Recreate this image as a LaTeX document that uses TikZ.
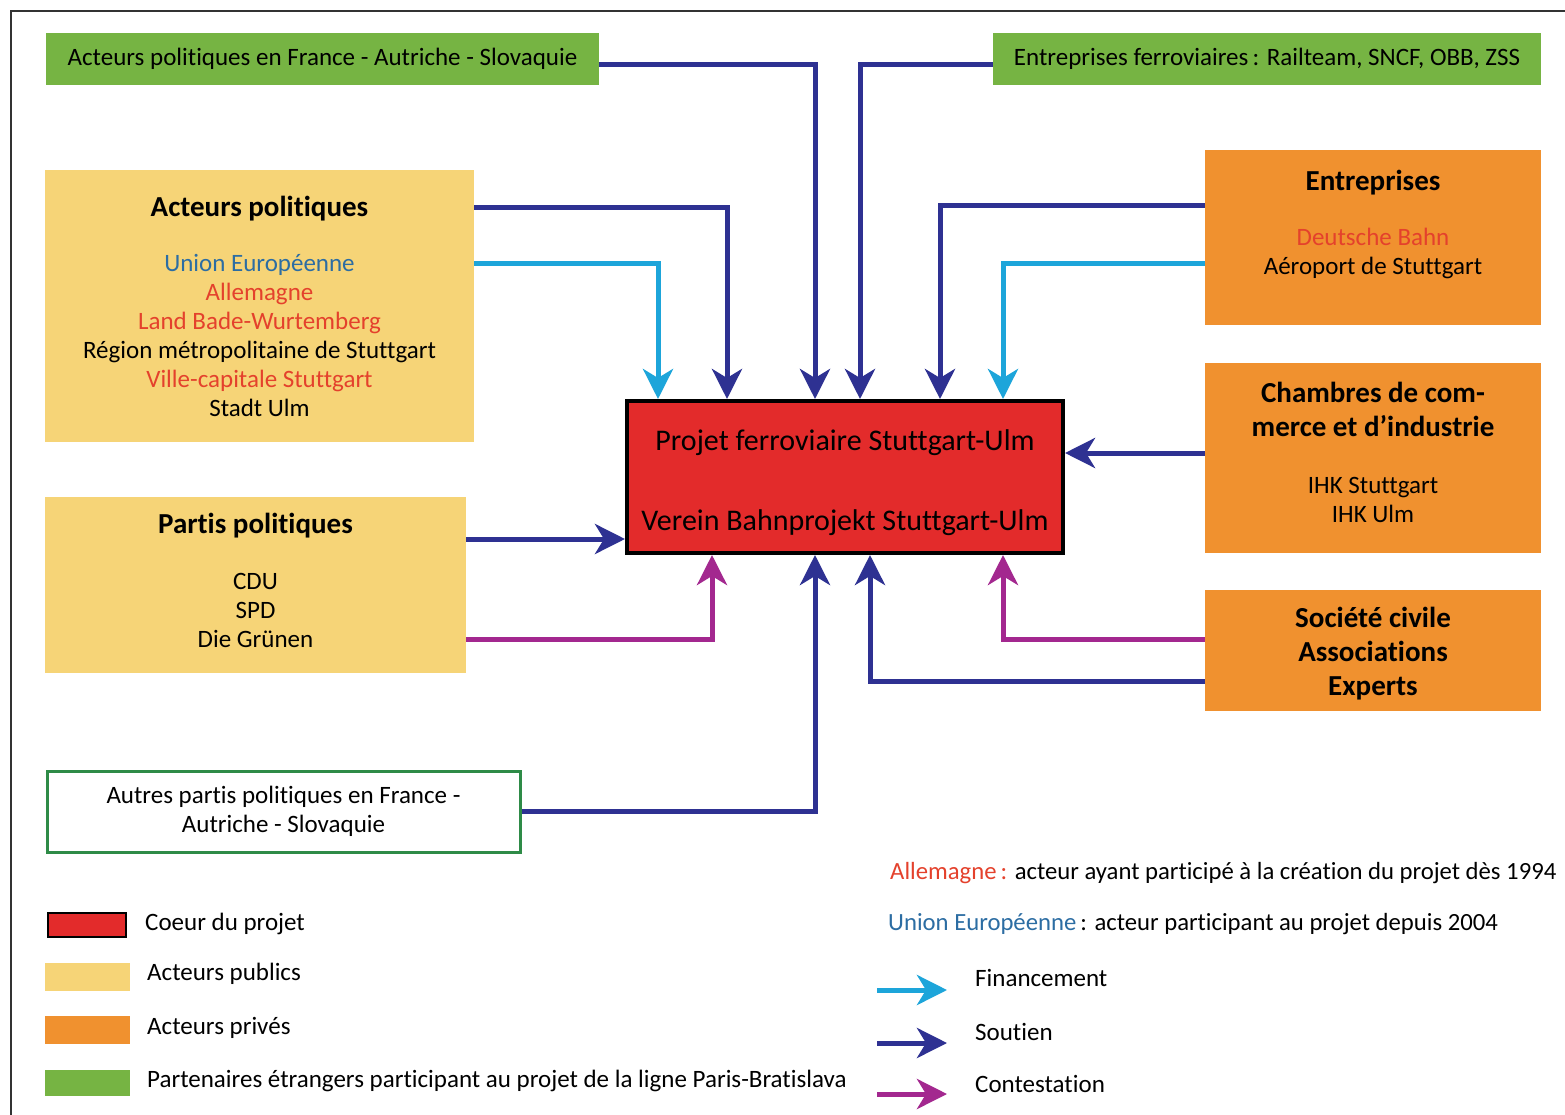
\documentclass[tikz,border=0pt]{standalone}
\usepackage{fontspec}
\setmainfont{Carlito}[Ligatures=NoCommon]
\usetikzlibrary{arrows.meta}

\definecolor{vert}{HTML}{76B443}
\definecolor{jaune}{HTML}{F6D477}
\definecolor{orange}{HTML}{F0912F}
\definecolor{rouge}{HTML}{E32B2B}
\definecolor{marine}{HTML}{2E3192}
\definecolor{ciel}{HTML}{1DA5DA}
\definecolor{violet}{HTML}{A3288F}
\definecolor{txtrouge}{HTML}{E4412C}
\definecolor{txtbleu}{HTML}{2C6DA3}
\definecolor{bordvert}{HTML}{2E8B47}

\begin{document}
\begin{tikzpicture}[x=1pt, y=-1pt,
  box/.style={inner sep=0pt, align=center, font=\fontsize{25}{29}\selectfont},
  label/.style={anchor=west, inner sep=0pt, font=\fontsize{25}{29}\selectfont},
  fleche/.style={line width=5pt, -{Stealth[length=30pt, width=30pt, inset=9pt]}},
  soutien/.style={fleche, draw=marine},
  finance/.style={fleche, draw=ciel},
  contest/.style={fleche, draw=violet}]
  \useasboundingbox[fill=white] (0,0) rectangle (1565,1115);
  \draw[line width=1.2pt, black!80] (11,1130) -- (11,11) -- (1580,11);

  % partenaires etrangers
  \node[box, fill=vert, minimum width=553, minimum height=52] (frpol) at (322.5,59)
    {Acteurs politiques en France - Autriche - Slovaquie};
  \node[box, fill=vert, minimum width=548, minimum height=52] (ferro) at (1267,59)
    {Entreprises ferroviaires\,: Railteam, SNCF, OBB, ZSS};

  % acteurs publics
  \node[box, fill=jaune, minimum width=429, minimum height=272] (acteurs) at (259.5,306)
    {{\fontsize{29}{34}\selectfont\bfseries Acteurs politiques}\\[26pt]
     \textcolor{txtbleu}{Union Européenne}\\
     \textcolor{txtrouge}{Allemagne}\\
     \textcolor{txtrouge}{Land Bade-Wurtemberg}\\
     Région métropolitaine de Stuttgart\\
     \textcolor{txtrouge}{Ville-capitale Stuttgart}\\
     Stadt Ulm};
  \node[box, fill=jaune, minimum width=421, minimum height=176] (partis) at (255.5,585)
    {{\fontsize{29}{34}\selectfont\bfseries Partis politiques}\\[27pt]
     CDU\\ SPD\\ Die Grünen\rule[-9pt]{0pt}{0pt}};
  \node[box, draw=bordvert, line width=3pt, minimum width=473, minimum height=81] (autres) at (283.5,811.5)
    {Autres partis politiques en France -\\ Autriche - Slovaquie};

  % coeur du projet
  \node[box, fill=rouge, draw=black, line width=4pt, minimum width=436, minimum height=152,
    font=\fontsize{30}{34}\selectfont] (projet) at (845,477)
    {\rule{0pt}{33pt}Projet ferroviaire Stuttgart-Ulm\\[46pt] Verein Bahnprojekt Stuttgart-Ulm};

  % acteurs prives
  \node[box, fill=orange, minimum width=336, minimum height=175] (entr) at (1373,237.5)
    {{\fontsize{29}{34}\selectfont\bfseries Entreprises}\\[26pt]
     \textcolor{txtrouge}{Deutsche Bahn}\\ Aéroport de Stuttgart\rule[-30pt]{0pt}{0pt}};
  \node[box, fill=orange, minimum width=336, minimum height=190] (cci) at (1373,458)
    {{\fontsize{29}{34}\selectfont\bfseries Chambres de com-}\\[5pt]
     {\fontsize{29}{34}\selectfont\bfseries merce et d’industrie}\\[28pt]
     IHK Stuttgart\\ IHK Ulm\rule[-12pt]{0pt}{0pt}};
  \node[box, fill=orange, minimum width=336, minimum height=121,
    font=\fontsize{29}{34}\selectfont\bfseries] (civile) at (1373,650.5)
    {\rule{0pt}{27pt}Société civile\\ Associations\\ Experts};

  % liens
  \draw[soutien] (frpol.east |- 0,65) -| (projet.north -| 815,0);
  \draw[soutien] (ferro.west |- 0,65) -| (projet.north -| 860,0);
  \draw[soutien] (acteurs.east |- 0,208) -| (projet.north -| 727,0);
  \draw[finance] (acteurs.east |- 0,264) -| (projet.north -| 658,0);
  \draw[soutien] (entr.west |- 0,206) -| (projet.north -| 940,0);
  \draw[finance] (entr.west |- 0,264) -| (projet.north -| 1003,0);
  \draw[soutien] (cci.west |- 0,453) -- (projet.east |- 0,453);
  \draw[soutien] (partis.east |- 0,539) -- (projet.west |- 0,539);
  \draw[contest] (partis.east |- 0,639) -| (projet.south -| 712,0);
  \draw[soutien] (autres.east |- 0,811) -| (projet.south -| 815,0);
  \draw[contest] (civile.west |- 0,639) -| (projet.south -| 1003,0);
  \draw[soutien] (civile.west |- 0,681) -| (projet.south -| 870,0);

  % legende
  \node[box, fill=rouge, draw=black, line width=2.5pt, minimum width=78, minimum height=24] (legcoeur) at (87,925) {};
  \node[box, fill=jaune, minimum width=85, minimum height=28] (legpublic) at (87.5,977) {};
  \node[box, fill=orange, minimum width=85, minimum height=28] (legprive) at (87.5,1030) {};
  \node[box, fill=vert, minimum width=85, minimum height=26] (legetranger) at (87.5,1083) {};
  \node[label] (txtcoeur) at (145,924) {Coeur du projet};
  \node[label] (txtpublic) at (147,974) {Acteurs publics};
  \node[label] (txtprive) at (147,1028) {Acteurs privés};
  \node[label] (txtetranger) at (147,1081) {Partenaires étrangers participant au projet de la ligne Paris-Bratislava};

  \node[label, font=\fontsize{24.7}{29}\selectfont] (txtallemagne) at (890,873)
    {\textcolor{txtrouge}{Allemagne\,:} acteur ayant participé à la création du projet dès 1994};
  \node[label, font=\fontsize{24.7}{29}\selectfont] (txtunion) at (888,924)
    {\textcolor{txtbleu}{Union Européenne}\,: acteur participant au projet depuis 2004};

  \coordinate (fin1) at (877,990);   \coordinate (fin2) at (947,990);
  \coordinate (sou1) at (877,1043);  \coordinate (sou2) at (947,1043);
  \coordinate (con1) at (877,1094);  \coordinate (con2) at (947,1094);
  \draw[finance] (fin1) -- (fin2);
  \draw[soutien] (sou1) -- (sou2);
  \draw[contest] (con1) -- (con2);
  \node[label] (txtfin) at (975,978) {Financement};
  \node[label] (txtsou) at (975,1032) {Soutien};
  \node[label] (txtcon) at (975,1084) {Contestation};
\end{tikzpicture}
\end{document}
